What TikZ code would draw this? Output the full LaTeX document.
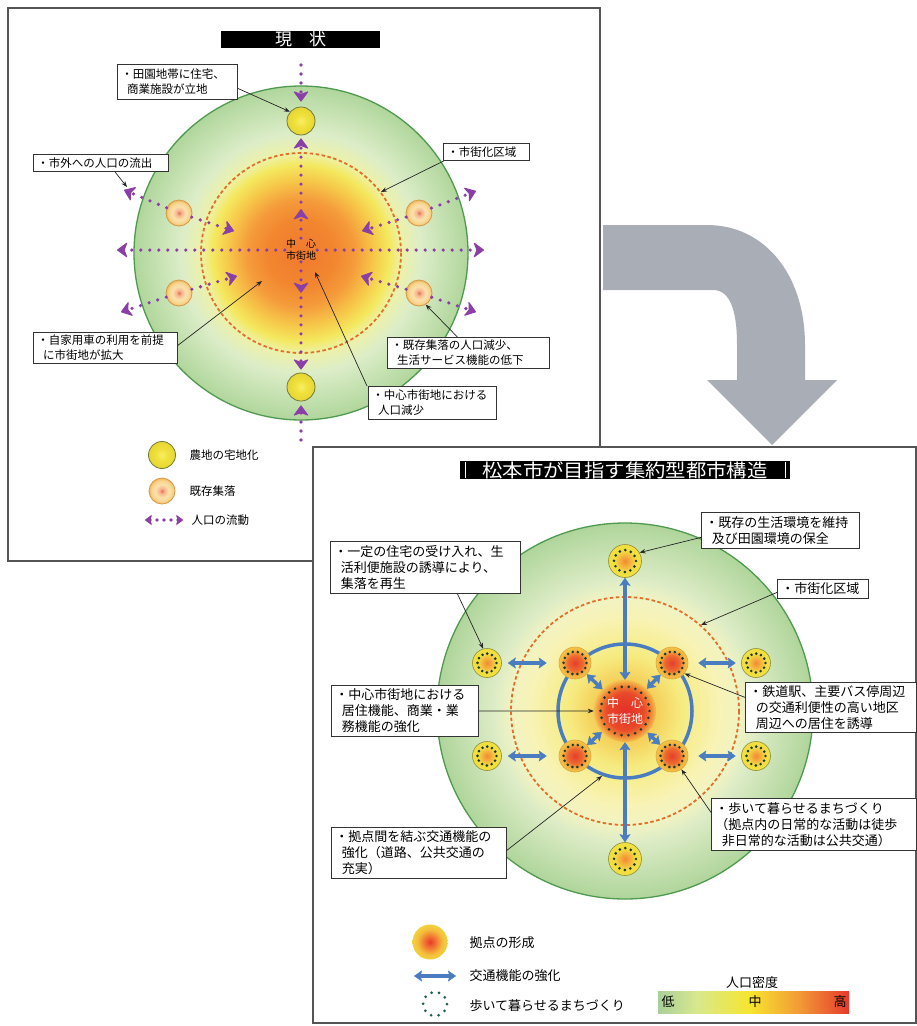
\documentclass[tikz,border=0pt]{standalone}
\usepackage{fontspec}
\setmainfont{Noto Sans CJK JP}
\newfontfamily\titlefont{Noto Sans CJK JP}[FakeStretch=1.1]
\usepackage{tikz}
\usetikzlibrary{arrows.meta,decorations.markings}

% colours
\definecolor{flowpurple}{HTML}{8A3FA8}
\definecolor{linkblue}{HTML}{4A7DC0}
\definecolor{rimgreen}{HTML}{4E9A4E}
\definecolor{urbanorange}{HTML}{E2702A}
\definecolor{arrowgrey}{HTML}{A9AEB6}
\definecolor{dotgreen}{HTML}{1E3A2E}
\definecolor{legendteal}{HTML}{1F5E52}
\definecolor{framegrey}{HTML}{555555}
\definecolor{tA}{HTML}{F07A2E}\definecolor{tB}{HTML}{F2862F}\definecolor{tC}{HTML}{F59B3B}
\definecolor{tD}{HTML}{F6C94A}\definecolor{tE}{HTML}{F4E85E}\definecolor{tF}{HTML}{EDF1A8}
\definecolor{tG}{HTML}{DCEDC8}\definecolor{tH}{HTML}{B0D69C}
\definecolor{bA}{HTML}{F2A040}\definecolor{bB}{HTML}{F5CE58}\definecolor{bC}{HTML}{F6EB80}
\definecolor{bD}{HTML}{F8F3B6}\definecolor{bE}{HTML}{F1F3C2}\definecolor{bF}{HTML}{DDECC6}
\definecolor{bG}{HTML}{AFD59B}
\definecolor{fA}{HTML}{F6EF66}\definecolor{fB}{HTML}{EFE03A}\definecolor{fC}{HTML}{E6D634}
\definecolor{fdraw}{HTML}{6F7B3C}
\definecolor{vA}{HTML}{EF6B5C}\definecolor{vB}{HTML}{F7B58E}\definecolor{vC}{HTML}{FBE2AC}
\definecolor{vD}{HTML}{F8D28A}\definecolor{vE}{HTML}{F0B558}\definecolor{vdraw}{HTML}{D69A48}
\definecolor{oA}{HTML}{F28A30}\definecolor{oB}{HTML}{F5B640}\definecolor{oC}{HTML}{F2DE40}
\definecolor{oD}{HTML}{F0E040}\definecolor{odraw}{HTML}{8F8C3E}
\definecolor{iA}{HTML}{E53E2B}\definecolor{iB}{HTML}{EE6A30}\definecolor{iC}{HTML}{F3AE3E}
\definecolor{iD}{HTML}{F2C646}\definecolor{idraw}{HTML}{DDA440}
\definecolor{cA}{HTML}{E32F28}\definecolor{cB}{HTML}{E84A2A}\definecolor{cC}{HTML}{EF7A30}
\definecolor{cD}{HTML}{F4C050}
\definecolor{kA}{HTML}{E93A2A}\definecolor{kB}{HTML}{F27A32}\definecolor{kC}{HTML}{F4BE3C}
\definecolor{kD}{HTML}{F2D23C}
\definecolor{gA}{HTML}{A9CF9A}\definecolor{gB}{HTML}{D7E88E}\definecolor{gC}{HTML}{F6E62E}
\definecolor{gD}{HTML}{F29A36}\definecolor{gE}{HTML}{E63A2C}

% shadings (25bp = rim of the shaded circle)
\pgfdeclareradialshading{topdens}{\pgfpointorigin}{color(0bp)=(tA); color(5bp)=(tB); color(8bp)=(tC); color(11bp)=(tD); color(13.2bp)=(tE); color(15bp)=(tF); color(18bp)=(tG); color(25bp)=(tH); color(50bp)=(tH)}
\pgfdeclareradialshading{botdens}{\pgfpointorigin}{color(0bp)=(bA); color(4bp)=(bB); color(7.5bp)=(bC); color(12.6bp)=(bD); color(15.2bp)=(bE); color(17.5bp)=(bF); color(25bp)=(bG); color(50bp)=(bG)}
\pgfdeclareradialshading{farmsh}{\pgfpointorigin}{color(0bp)=(fA); color(12bp)=(fB); color(25bp)=(fC); color(50bp)=(fC)}
\pgfdeclareradialshading{villsh}{\pgfpointorigin}{color(0bp)=(vA); color(5bp)=(vB); color(13bp)=(vC); color(21bp)=(vD); color(25bp)=(vE); color(50bp)=(vE)}
\pgfdeclareradialshading{outersh}{\pgfpointorigin}{color(0bp)=(oA); color(9bp)=(oB); color(16bp)=(oC); color(25bp)=(oD); color(50bp)=(oD)}
\pgfdeclareradialshading{innersh}{\pgfpointorigin}{color(0bp)=(iA); color(12bp)=(iB); color(19bp)=(iC); color(25bp)=(iD); color(50bp)=(iD)}
\pgfdeclareradialshading{centsh}{\pgfpointorigin}{color(0bp)=(cA); color(15bp)=(cB); color(20bp)=(cC); color(25bp)=(cD); color(50bp)=(cD)}
\pgfdeclareradialshading{kyotensh}{\pgfpointorigin}{color(0bp)=(kA); color(9bp)=(kB); color(18bp)=(kC); color(25bp)=(kD); color(50bp)=(kD)}
\pgfdeclarehorizontalshading{densbar}{100bp}{color(0bp)=(gA); color(25bp)=(gA); color(35bp)=(gB); color(49bp)=(gC); color(62bp)=(gD); color(75bp)=(gE); color(100bp)=(gE)}

\begin{document}
\begin{tikzpicture}[x=1pt, y=-1pt,
	chev/.tip={Stealth[length=11pt,width=16pt,inset=3pt,line width=1pt,round]},
	panel/.style={draw=framegrey, line width=1.2pt, fill=white},
	titlebar/.style={fill=black, text=white, inner sep=0pt},
	tfont/.style={font=\fontsize{11.5}{15}\selectfont},
	bfont/.style={font=\fontsize{13}{16}\selectfont},
	lbl/.style 2 args={draw=black!80, line width=0.8pt, fill=white, anchor=north west, inner xsep=4pt, inner ysep=1pt, text width=#1, minimum height=#2, align=left},
	callout/.style={-{Stealth[length=6pt,width=4.5pt]}, line width=0.7pt, black!85},
	flow/.style={flowpurple, line width=3.6pt, line cap=round, dash pattern=on 0pt off 9pt, -{chev}},
	flowmark/.style={postaction={decorate, decoration={markings, mark=at position #1 with {\arrow{chev}}}}},
	farm/.style={circle, minimum size=28pt, inner sep=0pt, draw=fdraw, line width=0.8pt, shade, shading=farmsh},
	vill/.style={circle, minimum size=26pt, inner sep=0pt, draw=vdraw, line width=0.8pt, shade, shading=villsh},
	onode/.style={circle, minimum size=29pt, inner sep=0pt, draw=odraw, line width=0.6pt, shade, shading=outersh},
	inode/.style={circle, minimum size=32pt, inner sep=0pt, draw=idraw, line width=0.6pt, shade, shading=innersh},
	cnode/.style={circle, minimum size=62pt, inner sep=0pt, shade, shading=centsh},
	knode/.style={circle, minimum size=35pt, inner sep=0pt, shade, shading=kyotensh},
	link/.style={linkblue, line width=3.5pt, {Stealth[length=8pt,width=11pt,inset=1.5pt,line width=0.4pt]}-{Stealth[length=8pt,width=11pt,inset=1.5pt,line width=0.4pt]}},
	dotring/.style={dotgreen, line width=2.9pt, line cap=round, dash pattern=on 0pt off #1},
]
	\fill[white] (0,0) rectangle (917,1026);
	\useasboundingbox (0,0) rectangle (917,1026);

	% ---- present state ----
	\draw[panel] (8,8) rectangle (600,561);
	\node[titlebar, minimum width=159pt, minimum height=17pt, font=\fontsize{17}{17}\selectfont] (ttop) at (300.5,39.5) {現　状};

	\coordinate (ctr1) at (301,253);
	\shade[shading=topdens] (ctr1) circle (167);
	\draw[rimgreen, line width=1.3pt] (ctr1) circle (167);
	\draw[urbanorange, line width=1.8pt, dash pattern=on 3.5pt off 2.5pt] (ctr1) circle (100);

	\node[farm] (ftop) at (301,121) {};
	\node[farm] (fbot) at (301,387) {};
	\node[vill] (vul) at (179,213) {};
	\node[vill] (vur) at (419,213) {};
	\node[vill] (vll) at (179,293) {};
	\node[vill] (vlr) at (419,293) {};
	\node[font=\fontsize{10}{12}\selectfont, align=center, inner sep=1pt] (ctop) at (301,250) {中　心\\市街地};

	\coordinate (ptop) at (301,65);
	\coordinate (pbot) at (301,440);
	\coordinate (pleft) at (117,250);
	\coordinate (pright) at (484,250);
	\coordinate (pul) at (124,190);
	\coordinate (pur) at (476,191);
	\coordinate (pll) at (121,312);
	\coordinate (plr) at (476,312);
	\coordinate (qul) at (234,231);
	\coordinate (qur) at (362,231);
	\coordinate (qll) at (237,276);
	\coordinate (qlr) at (361,276);

	\draw[flow, shorten >=5pt] (ptop) -- (ftop);
	\draw[flow, shorten >=3pt, flowmark=29pt] (ctop) -- (ftop);
	\draw[flow, shorten >=3pt, flowmark=31pt] (ctop) -- (fbot);
	\draw[flow, shorten >=4pt] (pbot) -- (fbot);
	\draw[flow] (ctop) -- (pleft);
	\draw[flow] (ctop) -- (pright);
	\draw[flow] (vul) -- (pul);
	\draw[flow] (vul) -- (qul);
	\draw[flow] (vur) -- (pur);
	\draw[flow] (vur) -- (qur);
	\draw[flow] (vll) -- (pll);
	\draw[flow] (vll) -- (qll);
	\draw[flow] (vlr) -- (plr);
	\draw[flow] (vlr) -- (qlr);

	\node[lbl={112pt}{35pt}, tfont] (lA) at (117,64) {・田園地帯に住宅、\\\hspace*{0.5em}商業施設が立地};
	\node[lbl={127pt}{17pt}, tfont] (lB) at (33,154) {・市外への人口の流出};
	\node[lbl={78pt}{17pt}, tfont] (lC) at (443,143) {・市街化区域};
	\node[lbl={136pt}{31pt}, tfont] (lD) at (33,332) {・自家用車の利用を前提\\\hspace*{0.5em}に市街地が拡大};
	\node[lbl={154pt}{31pt}, tfont] (lE) at (387,337) {・既存集落の人口減少、\\\hspace*{0.5em}生活サービス機能の低下};
	\node[lbl={120pt}{33pt}, tfont] (lF) at (368,386) {・中心市街地における\\\hspace*{0.5em}人口減少};

	\coordinate (tipB) at (127,187);
	\coordinate (tipC) at (381,192);
	\coordinate (tipD) at (262,281);
	\coordinate (tipF) at (315,272);
	\draw[callout] ([yshift=-6.5pt]lA.east) -- (ftop.140);
	\draw[callout] ([xshift=14pt]lB.south) -- (tipB);
	\draw[callout] ([xshift=1pt]lC.south west) -- (tipC);
	\draw[callout] ([yshift=2.5pt]lD.east) -- (tipD);
	\draw[callout] ([xshift=-11pt]lE.north) -- (vlr.-60);
	\draw[callout] ([xshift=-1pt]lF.north west) -- (tipF);

	% legend
	\node[farm, minimum size=27pt] (lgfarm) at (162,455) {};
	\node[tfont, anchor=west] (lgfarmt) at (186,455) {農地の宅地化};
	\node[vill] (lgvill) at (162,491) {};
	\node[tfont, anchor=west] (lgvillt) at (186,491) {既存集落};
	\coordinate (lgf1) at (145,520);
	\coordinate (lgf2) at (183,520);
	\draw[flow, dash pattern=on 0pt off 7pt, {chev[scale=0.7]}-{chev[scale=0.7]}] (lgf1) -- (lgf2);
	\node[tfont, anchor=west] (lgflowt) at (188,520) {人口の流動};

	% ---- turning arrow ----
	\fill[arrowgrey] (603,225) -- (707,225) .. controls (765,225) and (805,275) .. (805,345)
		-- (805,380) -- (837,380) -- (772,445) -- (707,380) -- (737,380) -- (737,345)
		.. controls (737,310) and (730,290) .. (713,290) -- (603,290) -- cycle;

	% ---- compact city ----
	\draw[panel] (313,447) rectangle (916,1023);
	\node[titlebar, minimum width=330pt, minimum height=18pt, font=\titlefont\fontsize{18.5}{18.5}\selectfont] (tbot) at (625,470) {松本市が目指す集約型都市構造};
	\draw[white, line width=1pt] (465,462) -- (465,478);
	\draw[white, line width=1pt] (785,462) -- (785,478);

	\coordinate (ctr2) at (625,711);
	\shade[shading=botdens] (ctr2) circle (188);
	\draw[rimgreen, line width=1.3pt] (ctr2) circle (188);
	\draw[urbanorange, line width=1.8pt, dash pattern=on 3.5pt off 2.5pt] (ctr2) circle (114);
	\draw[linkblue, line width=3.5pt] (ctr2) circle (67);

	\node[cnode, font=\fontsize{12}{16}\selectfont, text=white, align=center] (cen) at (625,711) {中　心\\市街地};
	\node[inode] (iul) at (575,663) {};
	\node[inode] (iur) at (672,663) {};
	\node[inode] (ill) at (575,756) {};
	\node[inode] (ilr) at (672,756) {};
	\node[onode, minimum size=33pt] (otop) at (625,561) {};
	\node[onode, minimum size=33pt] (obot) at (625,859) {};
	\node[onode] (olt) at (487,663) {};
	\node[onode] (olb) at (487,756) {};
	\node[onode] (ort) at (756,663) {};
	\node[onode] (orb) at (756,756) {};

	\draw[dotring=7pt] (cen) circle (24.5);
	\draw[dotring=5.16pt] (iul) circle (11.5);
	\draw[dotring=5.16pt] (iur) circle (11.5);
	\draw[dotring=5.16pt] (ill) circle (11.5);
	\draw[dotring=5.16pt] (ilr) circle (11.5);
	\draw[dotring=5.76pt] (otop) circle (11);
	\draw[dotring=5.76pt] (obot) circle (11);
	\draw[dotring=4.97pt] (olt) circle (9.5);
	\draw[dotring=4.97pt] (olb) circle (9.5);
	\draw[dotring=4.97pt] (ort) circle (9.5);
	\draw[dotring=4.97pt] (orb) circle (9.5);

	\draw[link] (cen) -- (otop);
	\draw[link] (cen) -- (obot);
	\draw[link] (cen) -- (iul);
	\draw[link] (cen) -- (iur);
	\draw[link] (cen) -- (ill);
	\draw[link] (cen) -- (ilr);
	\draw[link, shorten <=6pt, shorten >=12pt] (olt) -- (iul);
	\draw[link, shorten <=6pt, shorten >=12pt] (olb) -- (ill);
	\draw[link, shorten <=10pt, shorten >=5.5pt] (iur) -- (ort);
	\draw[link, shorten <=10pt, shorten >=5.5pt] (ilr) -- (orb);

	\node[lbl={150pt}{36pt}, bfont] (lG) at (701,512) {・既存の生活環境を維持\\\hspace*{0.5em}及び田園環境の保全};
	\node[lbl={182pt}{52pt}, bfont] (lH) at (330,541) {・一定の住宅の受け入れ、生\\\hspace*{0.5em}活利便施設の誘導により、\\\hspace*{0.5em}集落を再生};
	\node[lbl={83pt}{19pt}, bfont] (lI) at (777,579) {・市街化区域};
	\node[lbl={139pt}{51pt}, bfont] (lJ) at (331,685) {・中心市街地における\\\hspace*{0.5em}居住機能、商業・業\\\hspace*{0.5em}務機能の強化};
	\node[lbl={163pt}{50pt}, bfont] (lK) at (745,682) {・鉄道駅、主要バス停周辺\\\hspace*{0.5em}の交通利便性の高い地区\\\hspace*{0.5em}周辺への居住を誘導};
	\node[lbl={197pt}{52pt}, bfont] (lL) at (711,798) {・歩いて暮らせるまちづくり\\（拠点内の日常的な活動は徒歩\\\hspace*{0.5em}非日常的な活動は公共交通）};
	\node[lbl={167pt}{51pt}, bfont] (lM) at (331,827) {・拠点間を結ぶ交通機能の\\\hspace*{0.5em}強化（道路、公共交通の\\\hspace*{0.5em}充実）};

	\coordinate (tipI) at (701,625);
	\coordinate (tipM) at (602,776);
	\draw[callout] ([yshift=-7pt]lG.west) -- (otop.30);
	\draw[callout] ([xshift=32pt]lH.south) -- (olt.105);
	\draw[callout] ([yshift=-3.5pt]lI.west) -- (tipI);
	\draw[callout] (lJ.east) -- (cen);
	\draw[callout] ([yshift=10pt]lK.west) -- (iur.-40);
	\draw[callout] ([yshift=12pt]lL.west) -- (ilr.-55);
	\draw[callout] ([yshift=2.5pt]lM.east) -- (tipM);

	% legend
	\node[knode] (lgkyo) at (430,942) {};
	\node[bfont, anchor=west] (lgkyot) at (466,943) {拠点の形成};
	\coordinate (lgl1) at (414,976);
	\coordinate (lgl2) at (456,976);
	\draw[link] (lgl1) -- (lgl2);
	\node[bfont, anchor=west] (lglinkt) at (466,976) {交通機能の強化};
	\coordinate (lgwalk) at (435,1004);
	\draw[dotring=7.54pt, legendteal, line width=3pt] (lgwalk) circle (12);
	\node[bfont, anchor=west] (lgwalkt) at (466,1006) {歩いて暮らせるまちづくり};

	\shade[shading=densbar] (658,991) rectangle (849,1013);
	\node[bfont] (dtitle) at (752,983) {人口密度};
	\node[bfont] (dlow) at (668,1002) {低};
	\node[bfont] (dmid) at (755,1002) {中};
	\node[bfont] (dhigh) at (840,1002) {高};
\end{tikzpicture}
\end{document}
